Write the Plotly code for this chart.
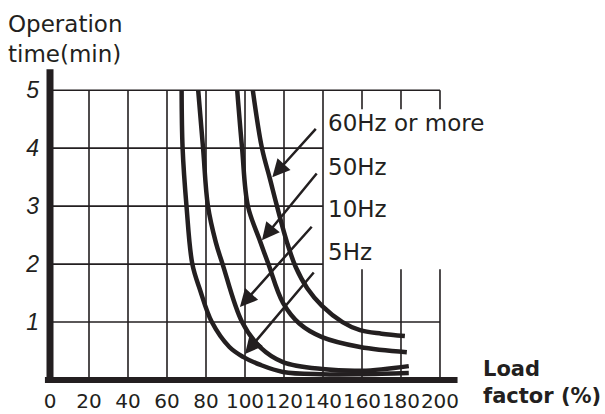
import plotly.graph_objects as go

# tick labels
x_ticks = [0, 20, 40, 60, 80, 100, 120, 140, 160, 180, 200]
y_ticks = [1, 2, 3, 4, 5]

# curves: load factor (%) vs operation time (min)
hz5_x = [67.5, 68, 70, 73, 77, 83, 92, 99, 108, 119.5, 139.5, 160, 184]
hz5_y = [5.0, 4.0, 3.0, 2.0, 1.55, 1.0, 0.57, 0.40, 0.26, 0.14, 0.10, 0.10, 0.12]

hz10_x = [76, 78.5, 81, 85, 88.5, 98.5, 108, 119.5, 139.5, 160, 184]
hz10_y = [5.0, 4.0, 3.0, 2.38, 2.0, 1.0, 0.56, 0.31, 0.19, 0.16, 0.24]

hz50_x = [96, 98.5, 101.5, 107.7, 112, 119.5, 128, 139.5, 159, 183]
hz50_y = [5.0, 4.0, 3.0, 2.4, 2.0, 1.33, 0.97, 0.74, 0.57, 0.48]

hz60_x = [104, 108.7, 112.8, 116.4, 121.5, 126, 132, 139.5, 150, 159, 170, 182]
hz60_y = [5.0, 4.0, 3.47, 3.0, 2.38, 1.95, 1.58, 1.28, 1.0, 0.86, 0.8, 0.76]

labels = ["60Hz or more", "50Hz", "10Hz", "5Hz"]
label_y = [4.43, 3.67, 2.95, 2.21]
arrow_tail = [(137, 4.36), (137.4, 3.59), (134.9, 2.67), (135.9, 1.88)]
arrow_tip = [(114, 3.5), (108.7, 2.41), (97.4, 1.26), (100, 0.45)]

ink = "#231f20"
fig = go.Figure()

# grid: full lines up to 140, short stubs beyond where the labels sit
gx, gy = [], []
for v in x_ticks[1:]:
    if v <= 140:
        gx += [v, v, None]; gy += [0, 5, None]
    else:
        gx += [v, v, None, v, v, None]; gy += [0, 1.91, None, 4.67, 5, None]
for v in y_ticks:
    right = 200 if v in (1, 5) else 140
    gx += [0, right, None]; gy += [v, v, None]
fig.add_trace(go.Scatter(x=gx, y=gy, mode="lines", line=dict(color=ink, width=1.6),
                         hoverinfo="skip"))

# thick axes
fig.add_trace(go.Scatter(x=[0, 0], y=[-0.05, 5.36], mode="lines",
                         line=dict(color=ink, width=7)))
fig.add_trace(go.Scatter(x=[-2.6, 209], y=[0, 0], mode="lines",
                         line=dict(color=ink, width=6)))

for cx, cy in [(hz5_x, hz5_y), (hz10_x, hz10_y), (hz50_x, hz50_y), (hz60_x, hz60_y)]:
    fig.add_trace(go.Scatter(x=cx, y=cy, mode="lines",
                             line=dict(color=ink, width=4.5, shape="spline", smoothing=1.0)))

anns = []
for name, ly, (tx, ty), (hx, hy) in zip(labels, label_y, arrow_tail, arrow_tip):
    anns.append(dict(x=141.5, y=ly, xref="x", yref="y", text=name, showarrow=False,
                     xanchor="left", yanchor="middle",
                     font=dict(family="DejaVu Sans", size=23, color=ink)))
    anns.append(dict(x=hx, y=hy, ax=tx, ay=ty, xref="x", yref="y", axref="x", ayref="y",
                     text="", showarrow=True, arrowhead=2, arrowsize=1.4,
                     arrowwidth=2.5, arrowcolor=ink))

anns.append(dict(x=-0.08, y=1.18, xref="paper", yref="paper", xanchor="left",
                 yanchor="top", align="left", showarrow=False,
                 text="Operation<br>time(min)",
                 font=dict(family="DejaVu Sans", size=23, color=ink)))
anns.append(dict(x=1.05, y=0.1, xref="paper", yref="paper", xanchor="left",
                 yanchor="top", align="left", showarrow=False,
                 text="<b>Load</b><br><b>factor (%)</b>",
                 font=dict(family="DejaVu Sans", size=21, color=ink)))

fig.update_layout(
    width=605, height=414,
    margin=dict(l=40, r=145, t=67, b=27),
    plot_bgcolor="white", paper_bgcolor="white",
    showlegend=False,
    annotations=anns,
    xaxis=dict(range=[-5.13, 210.26], showgrid=False, zeroline=False, showline=False,
               automargin=False,
               tickvals=x_ticks, ticktext=[str(v) for v in x_ticks], tickangle=0,
               tickfont=dict(family="DejaVu Sans", size=20, color=ink)),
    yaxis=dict(range=[-0.12, 5.40], showgrid=False, zeroline=False, showline=False,
               automargin=False,
               tickvals=y_ticks, ticktext=[str(v) for v in y_ticks],
               tickfont=dict(family="Liberation Sans", size=23, color=ink, style="italic")),
)

fig.write_html("out.html", config={"displayModeBar": False},
               post_script="document.body.style.margin='0px';")
